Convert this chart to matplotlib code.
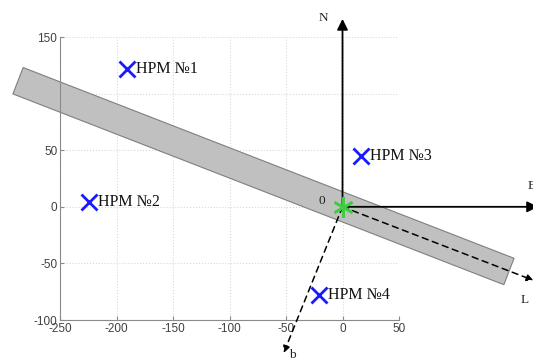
import numpy as np
import matplotlib.pyplot as plt

plt.rcParams["axes.unicode_minus"] = False

# receivers (НРМ) positions, m
rx_names = ["НРМ №1", "НРМ №2", "НРМ №3", "НРМ №4"]
rx_x = [-191, -224, 16, -21]
rx_y = [122, 4, 45, -78]

# route band along L axis
band_angle = -21.2      # degrees
band_half_width = 12.5
band_start = -308
band_end = 158

# axis arrows: name, tip (x, y), dashed
axes_arrows = [
    ("N", (0, 166), False),
    ("E", (173, 0), False),
    ("L", (169, -65), True),
    ("b", (-52, -129), True),
]
arrow_labels = {"N": (-17, 167), "E": (167, 18), "L": (161, -82), "b": (-44, -131)}

xticks = [-250, -200, -150, -100, -50, 0, 50]
yticks = [-100, -50, 0, 50, 100, 150]

fig = plt.figure(figsize=(5.33, 3.58), dpi=100)
ax = fig.add_axes([0.1126, 0.1061, 0.636, 0.7905])
ax.set_xlim(-250, 50)
ax.set_ylim(-100, 150)
ax.set_xticks(xticks)
ax.set_yticks(yticks)
ax.grid(True, linestyle=":", color="#d8d8d8", linewidth=0.8)
ax.set_axisbelow(True)
for s in ("top", "right"):
    ax.spines[s].set_visible(False)
for s in ("left", "bottom"):
    ax.spines[s].set_color("#8a8a8a")
ax.tick_params(direction="in", length=3, colors="#8a8a8a", labelcolor="#404040",
               labelsize=8.5, pad=2)
for lab in ax.get_xticklabels() + ax.get_yticklabels():
    lab.set_family("Liberation Sans")

# band
a = np.deg2rad(band_angle)
u = np.array([np.cos(a), np.sin(a)])
n = np.array([-np.sin(a), np.cos(a)])
corners = [band_start * u + band_half_width * n, band_end * u + band_half_width * n,
           band_end * u - band_half_width * n, band_start * u - band_half_width * n]
band = plt.Polygon(corners, closed=True, facecolor="#c0c0c0", edgecolor="#7f7f7f",
                   linewidth=0.8, clip_on=False, zorder=2)
ax.add_patch(band)

# axes arrows
for name, tip, dashed in axes_arrows:
    if dashed:
        props = dict(arrowstyle="-|>", linestyle=(0, (4, 3)), color="black", lw=1.1,
                     mutation_scale=10, shrinkA=0, shrinkB=0)
    else:
        props = dict(arrowstyle="-|>", color="black", lw=1.3, mutation_scale=16,
                     shrinkA=0, shrinkB=0)
    ax.annotate("", xy=tip, xytext=(0, 0), arrowprops=props,
                annotation_clip=False, zorder=4)
    lx, ly = arrow_labels[name]
    ax.text(lx, ly, name, family="Liberation Serif", fontsize=9.5, color="#202020",
            ha="center", va="center", clip_on=False, zorder=5)

# origin
ax.plot([0], [0], marker=(6, 2, 0), markersize=15, color="#3fcc3f",
        markeredgewidth=1.8, clip_on=False, zorder=5)
ax.text(-18, 5, "0", family="Liberation Serif", fontsize=9.5, color="#202020",
        ha="center", va="center", zorder=5)

# receivers
ax.plot(rx_x, rx_y, linestyle="none", marker="x", markersize=11, markeredgewidth=2,
        color="#1a1aff", zorder=5, clip_on=False)
for name, x, y in zip(rx_names, rx_x, rx_y):
    ax.text(x + 8, y, name, family="Liberation Serif", fontsize=11.5, color="#111111",
            ha="left", va="center", zorder=5)

fig.savefig("out.png", dpi=100)
